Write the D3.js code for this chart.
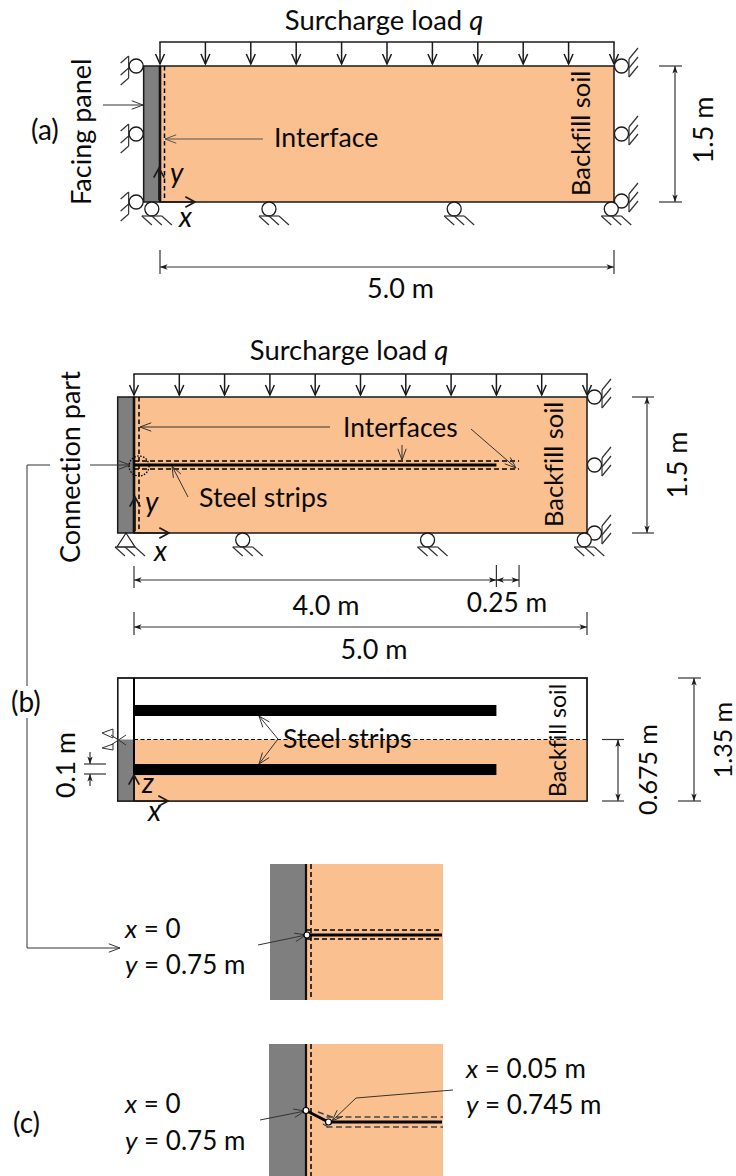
<!DOCTYPE html>
<html>
<head>
<meta charset="utf-8">
<script src="https://cdn.jsdelivr.net/npm/d3@7"></script>
<style>
  html, body { margin: 0; padding: 0; background: #fff; }
  svg { display: block; }
  text { font-family: Lato, "Open Sans", sans-serif; font-size: 26.7px; fill: #0a0a0a; font-variant-ligatures: none; }
</style>
</head>
<body>
<div id="chart"></div>
<script>
// lengths in metres
var wallLength = 5.0;
var wallHeight = 1.5;
var sliceHeight = 1.35;
var surfaceZ = 0.675;
var stripLength = 4.0;
var interfaceLength = 4.25;
var stripY = 0.75;
var panelThick = 0.18;
var loadStations = [0, 0.5, 1, 1.5, 2, 2.5, 3, 3.5, 4, 4.5, 5];
var baseRollersA = [-0.09, 1.2, 3.24, 4.97];
var baseRollersB = [1.2, 3.24, 4.97];
var sideRollersY = [0, 0.75, 1.5];
var stripBandsZ = [[0.285, 0.406], [0.933, 1.054]];
var nodeA = { x: 0, y: 0.75 };
var nodeB = { x: 0.05, y: 0.745 };
var dimLabels = ['1.5 m', '5.0 m', '4.0 m', '0.25 m', '0.1 m', '0.675 m', '1.35 m'];

var orange = '#fac090', grey = '#7f7f7f', ink = '#1a1a1a', thin = '#333';

var width = 736, height = 1176;
var svg = d3.select('#chart').append('svg').attr('width', width).attr('height', height);

var xA = d3.scaleLinear().domain([0, wallLength]).range([160, 614]);
var yA = d3.scaleLinear().domain([0, wallHeight]).range([202, 66]);
var xB = d3.scaleLinear().domain([0, wallLength]).range([134, 587]);
var yB = d3.scaleLinear().domain([0, wallHeight]).range([533, 397]);
var zB = d3.scaleLinear().domain([0, sliceHeight]).range([801, 678]);
var xD = d3.scaleLinear().domain([0, 0.05]).range([306, 328.5]);
var yD1 = d3.scaleLinear().domain([0.75, 0.745]).range([935, 947]);
var yD2 = d3.scaleLinear().domain([0.75, 0.745]).range([1110.5, 1122]);

function seg(x1, y1, x2, y2, w, col, dash) {
  return svg.append('line').attr('x1', x1).attr('y1', y1).attr('x2', x2).attr('y2', y2)
    .attr('stroke', col || ink).attr('stroke-width', w || 1)
    .attr('stroke-dasharray', dash || null);
}

function box(x0, y0, x1, y1, fill, stroke, w) {
  return svg.append('rect').attr('x', x0).attr('y', y0).attr('width', x1 - x0).attr('height', y1 - y0)
    .attr('fill', fill).attr('stroke', stroke || 'none').attr('stroke-width', w || 0);
}

// open V head at (x2,y2)
function openHead(x1, y1, x2, y2, len, spread, w, col) {
  var a = Math.atan2(y2 - y1, x2 - x1);
  var p = d3.path();
  p.moveTo(x2 - len * Math.cos(a - spread), y2 - len * Math.sin(a - spread));
  p.lineTo(x2, y2);
  p.lineTo(x2 - len * Math.cos(a + spread), y2 - len * Math.sin(a + spread));
  svg.append('path').attr('d', p.toString()).attr('fill', 'none').attr('stroke', col || ink).attr('stroke-width', w);
}

function leader(x1, y1, x2, y2, col) {
  seg(x1, y1, x2, y2, 1, col || thin);
  openHead(x1, y1, x2, y2, 12, 0.36, 1, col || thin);
}

function axisArrow(x1, y1, x2, y2) {
  seg(x1, y1, x2, y2, 1.7, ink);
  openHead(x1, y1, x2, y2, 11, 0.5, 1.7, ink);
}

function solidHead(x1, y1, x2, y2) {
  var a = Math.atan2(y2 - y1, x2 - x1), len = 8, spread = 0.34;
  var p = d3.path();
  p.moveTo(x2, y2);
  p.lineTo(x2 - len * Math.cos(a - spread), y2 - len * Math.sin(a - spread));
  p.lineTo(x2 - 5.5 * Math.cos(a), y2 - 5.5 * Math.sin(a));
  p.lineTo(x2 - len * Math.cos(a + spread), y2 - len * Math.sin(a + spread));
  p.closePath();
  svg.append('path').attr('d', p.toString()).attr('fill', ink);
}

function dim(x1, y1, x2, y2) {
  seg(x1, y1, x2, y2, 1.2, '#333');
  solidHead(x1, y1, x2, y2);
  solidHead(x2, y2, x1, y1);
}

function label(x, y, s, opts) {
  opts = opts || {};
  var t = svg.append('text').attr('x', x).attr('y', y).text(s);
  if (opts.size) t.style('font-size', opts.size + 'px');
  if (opts.anchor) t.attr('text-anchor', opts.anchor);
  if (opts.italic) t.style('font-style', 'italic');
  return t;
}

function vlabel(x, y, s, opts) {
  opts = opts || {};
  var t = svg.append('text').attr('transform', 'translate(' + x + ',' + y + ') rotate(-90)').text(s);
  if (opts.size) t.style('font-size', opts.size + 'px');
  if (opts.anchor) t.attr('text-anchor', opts.anchor);
  return t;
}

// mixed text: italic symbol + upright rest
function rich(x, y, parts, anchor, size) {
  var t = svg.append('text').attr('x', x).attr('y', y).attr('text-anchor', anchor || 'start')
    .style('font-size', (size || 26) + 'px');
  parts.forEach(function (p) {
    t.append('tspan').text(p[0]).style('font-style', p[1] ? 'italic' : 'normal');
  });
  return t;
}

function circle(cx, cy, r, w, col) {
  return svg.append('circle').attr('cx', cx).attr('cy', cy).attr('r', r)
    .attr('fill', '#fff').attr('stroke', col || ink).attr('stroke-width', w || 1.3);
}

function hatchDown(cx, gy) {
  seg(cx - 10, gy, cx + 10, gy, 1.2, thin);
  [-10, 0, 10].forEach(function (d) { seg(cx + d, gy, cx + d + 10, gy + 9, 1.2, thin); });
}

function rollerDown(cx, topY) {
  circle(cx, topY + 7, 7);
  hatchDown(cx, topY + 14);
}

function rollerLeft(cy, wallX) {
  var cx = wallX - 7.5, gx = wallX - 15;
  seg(gx, cy - 10, gx, cy + 12, 1.2, thin);
  [-10, 2, 12].forEach(function (d) { seg(gx, cy + d, gx - 8, cy + d + 7, 1.2, thin); });
  circle(cx, cy, 7);
}

function rollerRight(cy, wallX) {
  var gx = wallX + 15;
  seg(gx, cy - 7, gx, cy + 11, 1.2, thin);
  [-7, 2, 11].forEach(function (d) { seg(gx, cy + d, gx + 9, cy + d - 11, 1.2, thin); });
  circle(wallX + 7.5, cy, 7);
}

function loads(x, lineY, tipY) {
  seg(x(0) - 0.7, lineY, x(wallLength) + 0.7, lineY, 1.5, ink);
  loadStations.forEach(function (s) {
    seg(x(s), lineY, x(s), tipY, 1.5, ink);
    openHead(x(s), lineY, x(s), tipY, 11, 0.42, 1.5, ink);
  });
}

function surcharge(cx, y) {
  rich(cx, y, [['Surcharge load '], ['q', true]], 'middle', 27.4);
}

// ---- panel (a)
surcharge(384, 30);
loads(xA, 42, 64);
box(xA(0), yA(wallHeight), xA(wallLength), yA(0), orange, ink, 1.5);
box(xA(-panelThick), yA(wallHeight), xA(0), yA(0), grey, ink, 1.5);
seg(xA(0), yA(wallHeight), xA(0), yA(0), 2.6, '#111');
seg(xA(0) + 4.5, yA(wallHeight), xA(0) + 4.5, yA(0), 1.5, '#000', '4.5 3');
sideRollersY.forEach(function (y) { rollerLeft(yA(y), xA(-panelThick)); });
sideRollersY.forEach(function (y) { rollerRight(yA(y) - (y === 0 ? 1 : 0), xA(wallLength)); });
baseRollersA.forEach(function (x) { rollerDown(xA(x), yA(0)); });
axisArrow(xA(0) - 1, yA(0) - 2, xA(0) - 1, 168);
axisArrow(xA(0), yA(0), 195, yA(0));
label(170, 183, 'y', { italic: true, size: 28 });
label(179, 227, 'x', { italic: true, size: 28 });
vlabel(91, 205, 'Facing panel', { size: 27 });
leader(103, 105, 143, 105);
label(31, 140, '(a)', { size: 28 });
leader(263, 139, 165, 139, '#555');
label(274, 147, 'Interface');
vlabel(590, 196, 'Backfill soil', { size: 25.5 });
seg(659, yA(wallHeight), 682, yA(wallHeight), 1.2, '#333');
seg(659, yA(0), 682, yA(0), 1.2, '#333');
dim(675, yA(wallHeight), 675, yA(0));
vlabel(713, 130, dimLabels[0], { anchor: 'middle', size: 27 });
seg(xA(0), 250, xA(0), 274, 1.2, '#333');
seg(xA(wallLength), 250, xA(wallLength), 274, 1.2, '#333');
dim(xA(0), 267, xA(wallLength), 267);
label(400.5, 298, dimLabels[1], { anchor: 'middle', size: 27 });

// ---- panel (b), elevation
surcharge(349, 360);
loads(xB, 374, 395);
box(xB(0), yB(wallHeight), xB(wallLength), yB(0), orange, ink, 1.5);
box(xB(-panelThick), yB(wallHeight), xB(0), yB(0), grey, ink, 1.5);
seg(xB(0), yB(wallHeight), xB(0), yB(0), 2.6, '#111');
seg(xB(0) + 5, yB(wallHeight), xB(0) + 5, yB(0), 1.5, '#000', '4.5 3');
seg(xB(0), yB(stripY) - 4, xB(interfaceLength), yB(stripY) - 4, 1.4, '#000', '5 3');
seg(xB(0), yB(stripY) + 4, xB(interfaceLength), yB(stripY) + 4, 1.4, '#000', '5 3');
seg(xB(0), yB(stripY), xB(stripLength), yB(stripY), 2.8, '#000');
svg.append('circle').attr('cx', 139).attr('cy', yB(stripY) + 1).attr('r', 10)
  .attr('fill', 'none').attr('stroke', '#000').attr('stroke-width', 1.3).attr('stroke-dasharray', '1.5 1.5');
sideRollersY.forEach(function (y) { rollerRight(yB(y), xB(wallLength)); });
baseRollersB.forEach(function (x) { rollerDown(xB(x), yB(0)); });
// pin under the panel
svg.append('path').attr('d', d3.line()([[126, yB(0)], [117, yB(0) + 14], [135, yB(0) + 14]]) + 'Z')
  .attr('fill', '#fff').attr('stroke', ink).attr('stroke-width', 1.2);
hatchDown(125, yB(0) + 14);
axisArrow(xB(0) + 1, yB(0) - 2, xB(0) + 1, 497);
axisArrow(xB(0), yB(0), 169, yB(0));
label(145, 512, 'y', { italic: true, size: 28 });
label(154, 561, 'x', { italic: true, size: 28 });
vlabel(80, 563, 'Connection part', { size: 27 });
leader(90, 465, 130, 465);
svg.append('path').attr('d', d3.line()([[50, 465], [27, 465], [27, 686]]))
  .attr('fill', 'none').attr('stroke', thin).attr('stroke-width', 1);
svg.append('path').attr('d', d3.line()([[27, 718], [27, 948], [120, 948]]))
  .attr('fill', 'none').attr('stroke', thin).attr('stroke-width', 1);
openHead(100, 948, 120, 948, 12, 0.36, 1, thin);
label(11, 712, '(b)', { size: 28 });
leader(330, 427, 140, 427);
label(343, 437, 'Interfaces', { size: 26.4 });
leader(402, 445, 402, 460);
leader(471, 429, 516, 468);
leader(188, 497, 172, 466);
label(199, 507, 'Steel strips');
vlabel(563, 527, 'Backfill soil', { size: 25.5 });
seg(632, yB(wallHeight), 654, yB(wallHeight), 1.2, '#333');
seg(632, yB(0), 654, yB(0), 1.2, '#333');
dim(647, yB(wallHeight), 647, yB(0));
vlabel(687, 465, dimLabels[0], { anchor: 'middle', size: 27 });
seg(xB(0), 566, xB(0), 588, 1.2, '#333');
seg(xB(stripLength), 565, xB(stripLength), 587, 1.2, '#333');
seg(xB(interfaceLength), 565, xB(interfaceLength), 587, 1.2, '#333');
dim(xB(0), 580, xB(stripLength), 580);
dim(xB(stripLength), 580, xB(interfaceLength), 580);
label(326, 615, dimLabels[2], { anchor: 'middle', size: 27 });
label(507, 612, dimLabels[3], { anchor: 'middle', size: 26.3 });
seg(xB(0), 612, xB(0), 635, 1.2, '#333');
seg(xB(wallLength), 612, xB(wallLength), 635, 1.2, '#333');
dim(xB(0), 627, xB(wallLength), 627);
label(374, 659, dimLabels[1], { anchor: 'middle', size: 27 });

// ---- panel (b), plan
box(xB(-panelThick), zB(sliceHeight), xB(wallLength), zB(0), '#fff', ink, 1.4);
box(xB(0), zB(surfaceZ), xB(wallLength), zB(0), orange);
box(xB(-panelThick), zB(surfaceZ), xB(0), zB(0), grey);
box(xB(-panelThick), zB(sliceHeight), xB(wallLength), zB(0), 'none', ink, 1.4);
stripBandsZ.forEach(function (b) {
  box(xB(0), zB(b[1]), xB(stripLength), zB(b[0]), '#000');
});
seg(xB(0), zB(sliceHeight), xB(0), zB(0), 2, '#000');
seg(xB(0), zB(surfaceZ), xB(wallLength), zB(surfaceZ), 1.2, '#000', '4 2.5');
axisArrow(xB(0), zB(0), xB(0), 775);
axisArrow(xB(0), zB(0), 168, zB(0));
label(142, 793, 'z', { italic: true, size: 28 });
label(148, 821, 'x', { italic: true, size: 28 });
label(283, 748, 'Steel strips');
leader(278, 739, 259, 716);
leader(278, 739, 259, 764);
vlabel(566, 797, 'Backfill soil', { size: 23 });
// symmetry mark
svg.append('path').attr('d', d3.line()([[102, 733], [113, 729], [113, 738]]) + 'Z')
  .attr('fill', '#fff').attr('stroke', thin).attr('stroke-width', 1);
svg.append('path').attr('d', d3.line()([[102, 748], [113, 744], [113, 750]]) + 'Z')
  .attr('fill', '#fff').attr('stroke', thin).attr('stroke-width', 1);
seg(111, 735, 126, 745, 1, thin);
seg(111, 745, 126, 735, 1, thin);
seg(84, 764, 106, 764, 1.2, '#333');
seg(84, 774, 106, 774, 1.2, '#333');
seg(90, 752, 90, 764, 1.2, '#333');
solidHead(90, 752, 90, 764);
seg(90, 786, 90, 774, 1.2, '#333');
solidHead(90, 786, 90, 774);
vlabel(75, 798, dimLabels[4]);
seg(602, zB(surfaceZ), 624, zB(surfaceZ), 1.2, '#333');
seg(602, zB(0), 624, zB(0), 1.2, '#333');
dim(618, zB(surfaceZ), 618, zB(0));
vlabel(657, 815, dimLabels[5], { size: 25 });
seg(678, zB(sliceHeight), 701, zB(sliceHeight), 1.2, '#333');
seg(678, zB(0), 701, zB(0), 1.2, '#333');
dim(694, zB(sliceHeight), 694, zB(0));
vlabel(732, 740, dimLabels[6], { anchor: 'middle', size: 25 });

// ---- connection details
function detail(top, bottom, left) {
  box(xD(0), top, 443, bottom, orange);
  box(left, top, xD(0), bottom, grey);
  seg(xD(0), top, xD(0), bottom, 2.2, '#111');
  seg(xD(0) + 5, top, xD(0) + 5, bottom, 1.5, '#000', '5 3');
}

detail(864, 1000, 270);
seg(xD(0), yD1(nodeA.y) - 5, 442, yD1(nodeA.y) - 5, 1.4, '#000', '5 3');
seg(xD(0), yD1(nodeA.y) + 4, 442, yD1(nodeA.y) + 4, 1.4, '#000', '5 3');
seg(xD(0), yD1(nodeA.y), 442, yD1(nodeA.y), 2.8, '#000');
leader(258, 945, 306, yD1(nodeA.y));
circle(xD(nodeA.x) + 1, yD1(nodeA.y), 3, 1.2, '#000');
rich(125, 938, [['x', true], [' = 0']]);
rich(125, 974, [['y', true], [' = 0.75 m']]);

detail(1044, 1176, 269);
seg(xD(nodeB.x) - 2, yD2(nodeB.y) - 5, 443, yD2(nodeB.y) - 5, 1.4, '#444', '6 3.5');
seg(xD(nodeB.x) - 2, yD2(nodeB.y) + 5, 443, yD2(nodeB.y) + 5, 1.4, '#444', '6 3.5');
seg(318, 1112, 335, 1118, 1.4, '#444', '6 3.5');
seg(323, 1124, 328, 1127, 1.4, '#444');
svg.append('path').attr('d', d3.line()([
  [xD(nodeA.x), yD2(nodeA.y)], [xD(nodeB.x), yD2(nodeB.y)], [442, yD2(nodeB.y)]
])).attr('fill', 'none').attr('stroke', '#000').attr('stroke-width', 2.8);
leader(260, 1120, 305, 1111);
svg.append('path').attr('d', d3.line()([[453, 1090], [356, 1098], [332, 1121]]))
  .attr('fill', 'none').attr('stroke', thin).attr('stroke-width', 1);
openHead(356, 1098, 332, 1121, 12, 0.36, 1, thin);
circle(xD(nodeA.x), yD2(nodeA.y), 3, 1.2, '#000');
circle(xD(nodeB.x), yD2(nodeB.y), 3, 1.2, '#000');
rich(125, 1113, [['x', true], [' = 0']]);
rich(125, 1150, [['y', true], [' = 0.75 m']]);
rich(466, 1078, [['x', true], [' = 0.05 m']]);
rich(466, 1114, [['y', true], [' = 0.745 m']]);
label(13, 1133, '(c)', { size: 28 });
</script>
</body>
</html>
